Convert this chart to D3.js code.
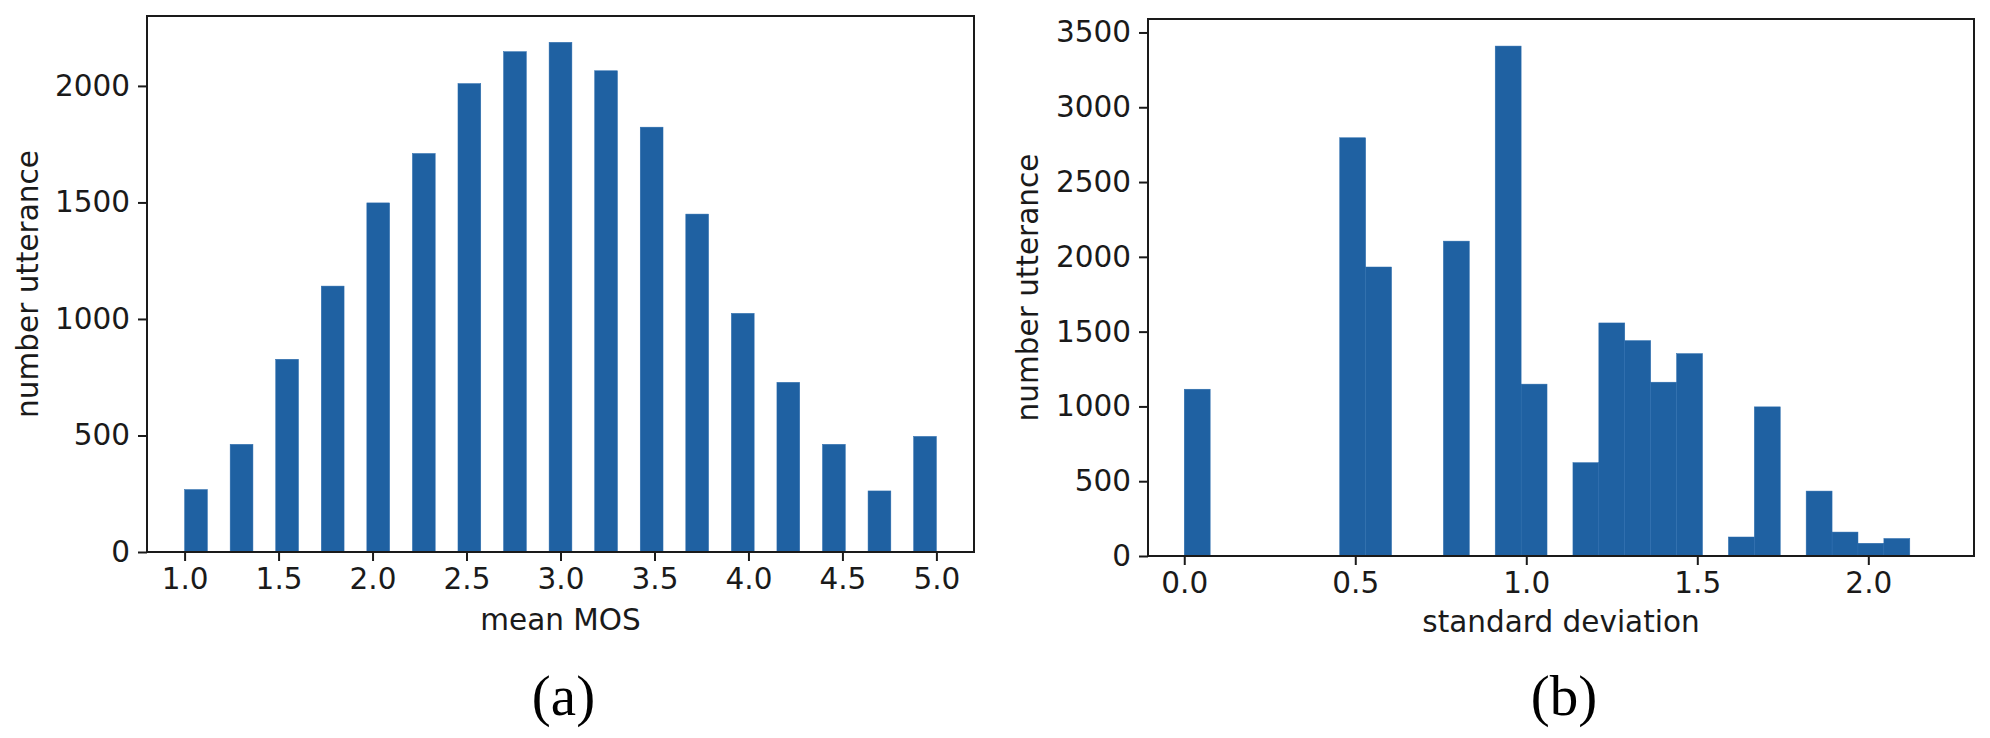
<!DOCTYPE html>
<html>
<head>
<meta charset="utf-8">
<script src="https://cdnjs.cloudflare.com/ajax/libs/d3/7.8.5/d3.min.js"></script>
<style>
  body { margin: 0; background: #ffffff; }
  svg { display: block; }
</style>
</head>
<body>
<div id="chart"></div>
<script>
// (a) mean MOS histogram: one count per possible mean value (k / 4)
const mosValues = [1.0, 1.25, 1.5, 1.75, 2.0, 2.25, 2.5, 2.75, 3.0, 3.25, 3.5, 3.75, 4.0, 4.25, 4.5, 4.75, 5.0];
const mosCounts = [268, 462, 827, 1141, 1498, 1710, 2010, 2147, 2187, 2065, 1823, 1450, 1024, 728, 462, 262, 496];
const mosBinCount = 33;
const mosRange = [1.0, 5.0];
const mosXTicks = [1.0, 1.5, 2.0, 2.5, 3.0, 3.5, 4.0, 4.5, 5.0];
const mosYTicks = [0, 500, 1000, 1500, 2000];

// (b) standard deviation histogram: non-empty bins only
const stdBinIndex = [0, 6, 7, 10, 12, 13, 15, 16, 17, 18, 19, 21, 22, 24, 25, 26, 27];
const stdCounts = [1115, 2796, 1932, 2105, 3409, 1149, 624, 1558, 1440, 1162, 1353, 127, 997, 434, 160, 85, 117];
const stdBinCount = 28;
const stdRange = [0, 2.1213];
const stdXTicks = [0.0, 0.5, 1.0, 1.5, 2.0];
const stdYTicks = [0, 500, 1000, 1500, 2000, 2500, 3000, 3500];

const barFill = '#1f61a2';
const barEdge = '#2b6cae';
const inkColor = '#1a1a1a';
const fontFamily = '"DejaVu Sans", sans-serif';
const fontSize = '29.5px';

const svg = d3.select('#chart')
    .append('svg')
    .attr('width', 1990)
    .attr('height', 738);

// turn (value, count) pairs into histogram rectangles [x0, x1, count]
function mosBars() {
    const w = (mosRange[1] - mosRange[0]) / mosBinCount;
    return mosValues.map((v, i) => {
        let b = Math.floor((v - mosRange[0]) / w + 1e-9);
        if (b >= mosBinCount) b = mosBinCount - 1;
        return { x0: mosRange[0] + b * w, x1: mosRange[0] + (b + 1) * w, count: mosCounts[i] };
    });
}

function stdBars() {
    const w = (stdRange[1] - stdRange[0]) / stdBinCount;
    return stdBinIndex.map((b, i) => ({ x0: stdRange[0] + b * w, x1: stdRange[0] + (b + 1) * w, count: stdCounts[i] }));
}

function drawPanel(opts) {
    const x = d3.scaleLinear().domain(opts.xDomain).range([opts.left, opts.right]);
    const y = d3.scaleLinear().domain(opts.yDomain).range([opts.bottom, opts.top]);
    const g = svg.append('g');

    g.selectAll('rect.bar')
        .data(opts.bars)
        .join('rect')
        .classed('bar', true)
        .attr('x', d => x(d.x0))
        .attr('y', d => y(d.count))
        .attr('width', d => x(d.x1) - x(d.x0))
        .attr('height', d => y(0) - y(d.count))
        .style('fill', barFill)
        .style('stroke', barEdge)
        .style('stroke-width', 0.5);

    const xAxis = g.append('g')
        .attr('transform', `translate(0,${opts.bottom})`)
        .call(d3.axisBottom(x).tickValues(opts.xTicks).tickFormat(d3.format('.1f'))
            .tickSize(9).tickPadding(7).tickSizeOuter(0));

    const yAxis = g.append('g')
        .attr('transform', `translate(${opts.left},0)`)
        .call(d3.axisLeft(y).tickValues(opts.yTicks).tickFormat(d3.format('d'))
            .tickSize(9).tickPadding(8).tickSizeOuter(0));

    [xAxis, yAxis].forEach(a => {
        a.select('.domain').remove();
        a.selectAll('line').style('stroke', inkColor).style('stroke-width', 2);
        a.selectAll('text')
            .style('font-family', fontFamily)
            .style('font-size', fontSize)
            .style('fill', inkColor);
    });

    // axes frame
    g.append('rect')
        .attr('x', opts.left)
        .attr('y', opts.top)
        .attr('width', opts.right - opts.left)
        .attr('height', opts.bottom - opts.top)
        .style('fill', 'none')
        .style('stroke', inkColor)
        .style('stroke-width', 2);

    g.append('text')
        .attr('x', (opts.left + opts.right) / 2)
        .attr('y', opts.xLabelY)
        .attr('text-anchor', 'middle')
        .style('font-family', fontFamily)
        .style('font-size', fontSize)
        .style('fill', inkColor)
        .text(opts.xLabel);

    g.append('text')
        .attr('transform', `translate(${opts.yLabelX},${(opts.top + opts.bottom) / 2}) rotate(-90)`)
        .attr('text-anchor', 'middle')
        .style('font-family', fontFamily)
        .style('font-size', fontSize)
        .style('fill', inkColor)
        .text('number utterance');

    g.append('text')
        .attr('x', (opts.left + opts.right) / 2 + 3)
        .attr('y', 715)
        .attr('text-anchor', 'middle')
        .style('font-family', '"Liberation Serif", "Times New Roman", serif')
        .style('font-size', '57px')
        .style('fill', '#000000')
        .text(opts.caption);
}

drawPanel({
    left: 147, right: 974, top: 16, bottom: 552,
    xDomain: [0.8, 5.2], yDomain: [0, 2300],
    bars: mosBars(), xTicks: mosXTicks, yTicks: mosYTicks,
    xLabel: 'mean MOS', xLabelY: 630, yLabelX: 38, caption: '(a)'
});

drawPanel({
    left: 1148, right: 1974, top: 19, bottom: 556,
    xDomain: [-0.106, 2.309], yDomain: [0, 3590],
    bars: stdBars(), xTicks: stdXTicks, yTicks: stdYTicks,
    xLabel: 'standard deviation', xLabelY: 632, yLabelX: 1038, caption: '(b)'
});
</script>
</body>
</html>
